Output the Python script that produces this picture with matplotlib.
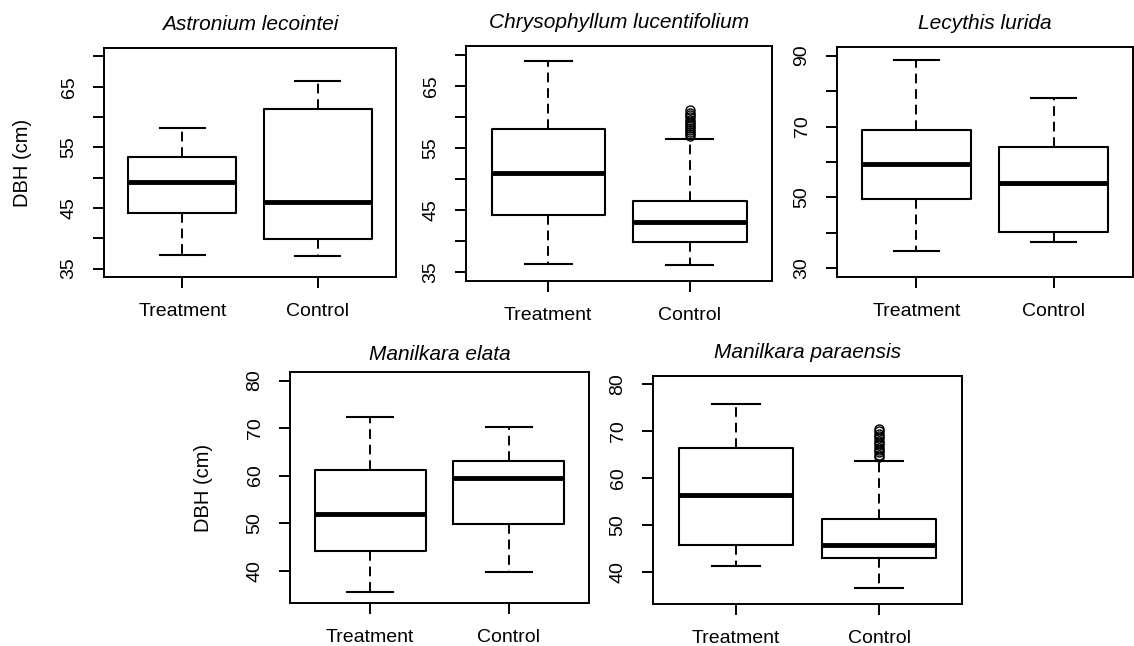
import numpy as np
import matplotlib.pyplot as plt

plt.rcParams['font.family'] = ['Liberation Sans', 'DejaVu Sans']

# species shown in each panel
species = ['Astronium lecointei', 'Chrysophyllum lucentifolium', 'Lecythis lurida',
           'Manilkara elata', 'Manilkara paraensis']
groups = ['Treatment', 'Control']

# box statistics, [Treatment, Control] per species
whis_lo = [[37.3, 37.0], [36.3, 36.1], [34.9, 37.5], [35.6, 39.8], [41.4, 36.7]]
q1 = [[44.2, 39.8], [44.2, 39.9], [49.6, 40.2], [44.1, 49.9], [45.7, 42.9]]
med = [[49.2, 45.9], [51.0, 43.1], [59.4, 54.1], [52.0, 59.5], [56.5, 45.7]]
q3 = [[53.4, 61.4], [58.0, 46.5], [69.1, 64.3], [61.1, 63.1], [66.5, 51.3]]
whis_hi = [[58.2, 65.9], [69.0, 56.4], [88.6, 78.0], [72.4, 70.2], [75.8, 63.7]]
fliers = [
    [[], []],
    [[], [57.0, 57.3, 57.6, 57.9, 58.2, 58.5, 58.8, 59.2, 59.5, 59.9, 60.3, 60.7, 61.1]],
    [[], []],
    [[], []],
    [[], [64.5, 65.0, 65.5, 66.0, 66.5, 67.0, 67.5, 68.0, 68.5, 69.0, 69.5, 70.0, 70.6]],
]

# axis ranges and ticks
ylims = [(35, 70), (35, 70), (30, 90), (35, 80), (35, 80)]
yticks = [[35, 40, 45, 50, 55, 60, 65, 70],
          [35, 40, 45, 50, 55, 60, 65, 70],
          [30, 40, 50, 60, 70, 80, 90],
          [40, 50, 60, 70, 80],
          [40, 50, 60, 70, 80]]
ylabels = [['35', '', '45', '', '55', '', '65', ''],
           ['35', '', '45', '', '55', '', '65', ''],
           ['30', '', '50', '', '70', '', '90'],
           ['40', '50', '60', '70', '80'],
           ['40', '50', '60', '70', '80']]

W, H = 1134, 646
# axes boxes in pixels: left, top, right, bottom
boxes = [(104, 48, 396, 277), (466, 46, 772, 281), (837, 47, 1133, 277),
         (290, 372, 589, 603), (653, 376, 962, 604)]
title_pads = [13, 13, 13, 9, 13]

fig = plt.figure(figsize=(W / 100, H / 100), dpi=100)

for i, name in enumerate(species):
    l, t, r, b = boxes[i]
    ax = fig.add_axes([l / W, (H - b) / H, (r - l) / W, (b - t) / H])
    stats = [dict(label=groups[j], whislo=whis_lo[i][j], q1=q1[i][j], med=med[i][j],
                  q3=q3[i][j], whishi=whis_hi[i][j], fliers=fliers[i][j]) for j in range(2)]
    ax.bxp(stats, positions=[1, 2], widths=0.8, capwidths=0.33, showfliers=True,
           boxprops=dict(color='black', linewidth=1.5),
           medianprops=dict(color='black', linewidth=3.5, solid_capstyle='butt'),
           whiskerprops=dict(color='black', linewidth=1.4, linestyle=(0, (5, 3))),
           capprops=dict(color='black', linewidth=1.5),
           flierprops=dict(marker='o', markerfacecolor='none', markeredgecolor='black',
                           markersize=6.5, markeredgewidth=1.0))

    lo, hi = ylims[i]
    ext = 0.04 * (hi - lo)
    ax.set_ylim(lo - ext, hi + ext)
    ax.set_xlim(0.42, 2.58)
    ax.set_yticks(yticks[i])
    ax.set_yticklabels(ylabels[i], rotation=90, va='center')
    ax.tick_params(direction='out', length=8, width=1.4, labelsize=14, pad=11, colors='black')
    for sp in ax.spines.values():
        sp.set_linewidth(1.4)
    ax.set_title(name, fontsize=15, fontstyle='italic', pad=title_pads[i])
    if i in (0, 3):
        ax.set_ylabel('DBH (cm)', fontsize=14.5)
        ax.yaxis.set_label_coords(-0.245 if i == 0 else -0.258, 0.5)

fig.savefig('out.png', dpi=100)
